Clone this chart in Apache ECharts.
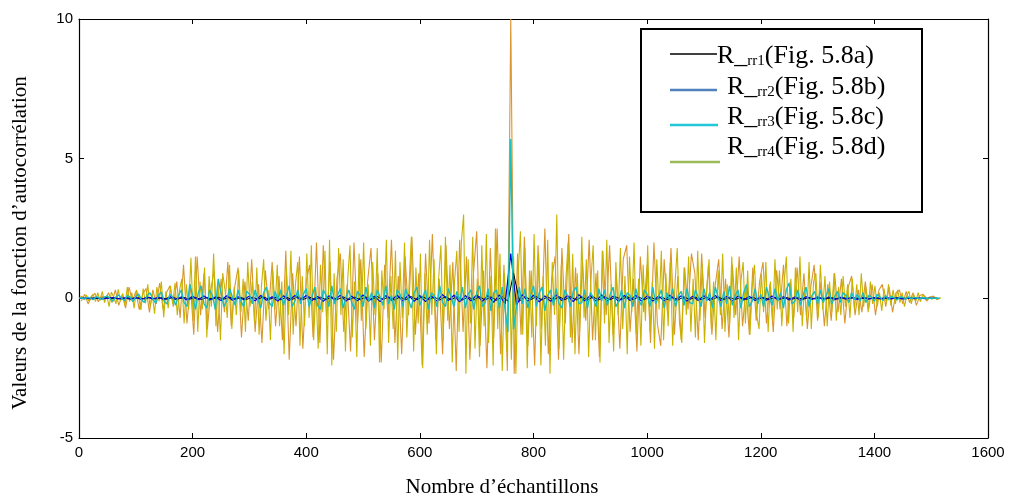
<!DOCTYPE html>
<html><head><meta charset="utf-8">
<script src="https://cdn.jsdelivr.net/npm/echarts@6/dist/echarts.min.js"></script>
<style>html,body{margin:0;padding:0;background:#fff}#c{width:1012px;height:497px}</style>
</head><body><div id="c"></div>
<script>
// ---- data (sample index = START + STEP * i) ----
const X_TICKS = [0,200,400,600,800,1000,1200,1400,1600];
const Y_TICKS = [-5,0,5,10];
const SERIES_NAMES = ['R_rr1(Fig. 5.8a)','R_rr2(Fig. 5.8b)','R_rr3(Fig. 5.8c)','R_rr4(Fig. 5.8d)'];

const YEL_START = 1, YEL_STEP = 4;
const yellow = [
0.02,0.08,-0.05,0.12,-0.1,0.05,0.15,-0.12,0.2,-0.08,
0.25,-0.15,0.1,-0.3,0.22,0.05,-0.2,0.32,-0.1,0.18,
-0.25,0.4,-0.12,0.2,-0.35,0.3,0.05,-0.42,0.35,-0.18,
0.5,-0.3,0.15,-0.55,0.4,-0.1,0.6,-0.68,0.25,-0.35,
0.45,-0.2,0.55,-0.6,0.3,0.7,-0.9,0.5,-0.4,1.45,
-0.8,1.5,-1.2,0.6,-0.4,1.1,-1.4,0.8,-0.3,1.6,
-1.0,0.5,-1.5,0.9,0.3,-0.7,1.2,-1.1,0.4,-0.6,
1.0,-0.5,0.7,-1.2,1.3,-0.3,0.6,-0.9,1.1,-1.3,
0.4,1.4,-0.8,0.3,-1.5,1.0,-0.4,1.2,-1.0,0.6,
-2.0,1.1,-0.6,1.7,-1.3,0.5,1.3,-1.7,0.8,-1.0,
1.6,-0.7,1.9,-1.5,0.4,-1.8,1.2,-0.5,1.7,-2.0,
2.1,-2.4,0.9,-1.2,1.8,-0.6,1.4,-1.9,0.7,1.9,
-1.4,0.6,-2.1,1.6,-0.8,2.0,-1.1,0.5,-1.7,1.3,
-0.6,1.8,-2.3,1.0,-0.4,2.1,-1.6,0.8,-1.1,1.7,
-2.2,1.3,-0.7,2.0,-1.4,0.5,2.2,-1.9,1.1,-0.9,
1.6,-2.5,0.9,-1.3,2.1,-0.6,1.4,-2.0,0.7,1.9,
-1.5,2.2,-0.8,1.2,-2.3,0.6,1.7,-1.2,2.0,3.0,
-2.7,1.4,-0.9,2.2,-1.8,0.7,-2.1,1.9,-1.0,2.3,
-1.6,0.8,-2.4,2.5,-1.1,1.6,-2.6,0.9,-1.9,2.0,
-2.2,1.5,-2.7,0.9,2.4,-1.3,1.8,-2.5,1.0,-1.4,
2.3,-1.0,1.6,-2.4,0.8,-1.7,2.1,-2.7,1.3,-0.6,
3.0,-1.8,1.2,-2.2,0.7,2.0,-1.4,1.6,-2.0,0.9,
-1.2,2.2,-0.7,1.4,-2.1,0.6,1.9,-1.5,1.0,-2.3,
1.7,-0.9,2.1,-1.6,0.5,-1.9,1.3,-0.6,1.8,-1.1,
0.8,-2.0,1.5,-0.5,2.0,-1.3,0.7,-1.7,1.2,-0.8,
1.9,-1.2,0.6,-1.8,1.4,-0.4,1.7,-1.5,0.9,-1.0,
1.3,-1.7,0.5,1.8,-0.9,-1.6,1.1,-0.6,1.5,-1.2,
0.7,-1.4,1.7,-0.8,1.2,-1.6,0.4,1.4,-1.1,0.6,
-1.5,1.0,-0.6,1.6,-1.2,0.5,-1.0,1.5,-0.7,1.1,
-1.5,0.6,1.3,-0.9,1.0,-1.3,0.4,1.2,-0.6,-1.1,
0.9,-0.5,1.3,-1.2,0.6,-0.8,1.4,-0.4,1.0,-1.0,
0.5,1.5,-0.9,0.7,-1.2,1.1,-0.5,1.5,-1.0,0.4,
-0.8,1.3,-1.1,0.6,0.9,-0.7,1.2,-0.4,0.8,-1.0,
0.6,-0.5,0.9,-0.8,0.4,-0.6,0.8,-0.3,0.5,-0.7,
0.7,-0.4,0.5,-0.6,0.9,-0.3,0.4,-0.5,0.6,-0.2,
0.45,-0.3,0.2,-0.45,0.35,-0.15,0.5,-0.25,0.3,-0.2,
0.3,-0.15,0.2,-0.3,0.1,0.25,-0.2,0.15,-0.1,0.2,
-0.12,0.1,0.08,-0.06,0.05,-0.04,0.03,0.02,-0.01,0.01
];

const ORA_START = 4, ORA_STEP = 6;
const orange = [
-0.1,0.15,-0.2,0.05,0.18,-0.12,0.1,-0.05,0.2,-0.15,
0.3,-0.25,0.12,-0.35,0.4,-0.1,0.25,-0.4,0.15,0.35,
-0.5,0.3,-0.2,0.55,-0.4,0.2,0.45,-0.3,0.6,-0.7,
1.2,-0.9,0.5,-1.3,1.5,-0.6,0.9,-1.1,0.3,1.0,
-1.2,0.7,-0.5,1.3,-1.0,0.4,1.1,-1.4,0.6,-0.8,
1.4,-1.2,0.5,-1.6,1.0,-0.4,1.3,-1.0,0.8,-1.5,
1.7,-2.2,0.9,-1.0,1.5,-1.8,0.6,1.2,-1.4,2.0,
-1.6,1.9,-0.8,1.3,-2.2,0.7,1.6,-1.2,0.5,-1.9,
2.0,-1.0,1.4,-2.1,0.6,1.8,-1.5,0.9,-2.3,1.2,
-0.7,2.1,-1.6,0.8,-2.0,1.5,-0.6,2.2,-1.3,0.9,
-2.4,1.6,-0.9,2.3,-1.5,0.7,-2.0,1.9,-1.1,1.3,
-2.6,2.1,-1.2,1.5,-2.2,0.8,2.4,-1.7,1.0,-2.5,
1.8,-1.4,2.5,-2.0,1.2,-2.6,10,-2.7,1.6,-1.3,
2.2,-1.7,1.0,-2.4,1.9,-1.1,2.5,-2.0,0.7,1.5,
-2.2,1.8,-0.9,2.3,-1.6,1.1,-2.0,1.4,-0.8,2.1,
-1.5,0.9,-2.1,1.7,-0.6,1.9,-1.3,0.8,-1.8,1.4,
1.9,-1.2,0.7,-1.9,1.5,-0.5,1.2,-1.6,2.0,-0.9,
-1.7,1.4,-0.6,1.8,-1.3,0.8,-1.5,1.1,-0.4,1.6,
0.9,-1.5,1.6,-0.7,1.2,-1.3,0.5,1.4,-1.1,0.7,
-1.4,1.2,-0.6,1.5,-1.0,0.4,-1.3,1.1,-0.8,0.6,
1.3,-0.9,0.5,-1.2,1.0,-0.4,1.2,-1.0,0.6,-0.7,
1.1,-0.6,0.9,-1.1,0.4,1.2,-0.8,0.6,-1.0,0.5,
-0.8,0.9,-0.5,0.7,-0.9,0.4,0.8,-0.6,0.3,-0.5,
0.6,-0.4,0.5,-0.6,0.3,0.5,-0.3,0.4,-0.5,0.2,
0.3,-0.2,0.25,-0.15,0.2,-0.25,0.1,0.15,-0.1,0.05,
0.08,-0.05,0.02
];

const CYA_START = 0, CYA_STEP = 5;
const cyan = [
0,0.02,-0.03,0.04,0.01,-0.05,0.06,0.02,-0.04,0.05,
0.08,-0.02,-0.1,0.05,0.12,0,-0.08,0.1,0.04,-0.12,
0.06,0.15,-0.05,-0.15,0.1,0.2,-0.02,-0.18,0.12,0.22,
-0.1,-0.2,0.15,0.05,-0.25,0.1,0.3,-0.15,-0.3,0.5,
0.1,-0.4,0.2,0.45,-0.2,-0.35,0.3,0.1,-0.4,0.7,
0.2,-0.3,-0.1,0.35,0.05,-0.25,0.3,-0.1,-0.3,0.25,
0.15,-0.2,0.3,-0.05,-0.35,0.2,0.4,-0.15,-0.3,0.25,
-0.05,0.3,-0.25,0.1,0.45,-0.3,-0.1,0.3,-0.2,0.15,
0.35,-0.3,0.05,0.4,-0.25,-0.4,0.3,0.1,-0.3,0.45,
-0.2,0.1,0.35,-0.35,0.05,0.3,-0.15,-0.4,0.25,0.1,
-0.3,0.4,-0.1,0.2,-0.35,0.3,0.05,-0.25,0.45,-0.2,
0.1,-0.4,0.3,0.15,-0.3,0.35,-0.05,-0.35,0.2,0.4,
-0.25,0.05,0.3,-0.4,0.2,0.1,-0.3,0.45,-0.15,-0.3,
0.35,0.05,-0.3,0.25,-0.1,0.4,-0.35,0.15,0.3,-0.4,
0.2,0.45,-0.3,-0.15,0.35,-0.45,0.2,0.3,-0.35,0.4,
-0.4,-1.2,5.7,-1.1,-0.3,0.4,-0.2,0.35,-0.35,0.1,
0.45,-0.3,0.2,0.4,-0.45,0.1,0.3,-0.25,0.35,-0.2,
-0.35,0.3,0.1,-0.3,0.25,0.4,-0.2,-0.15,0.3,-0.35,
0.2,0.05,-0.3,0.35,-0.1,0.3,-0.25,0.15,0.4,-0.3,
-0.1,0.3,-0.35,0.2,0.1,-0.3,0.35,-0.05,-0.25,0.3,
0.15,-0.3,0.4,-0.2,0.05,0.3,-0.35,0.2,-0.1,0.35,
-0.3,0.1,0.25,-0.25,0.35,-0.15,-0.2,0.3,0.05,-0.3,
0.35,-0.1,0.2,-0.35,0.4,0.05,-0.3,0.25,-0.2,0.45,
-0.25,0.1,0.3,-0.35,0.2,0.5,-0.3,-0.1,0.35,-0.2,
0.15,-0.3,0.4,0.05,-0.25,0.35,-0.1,0.2,-0.35,0.3,
0.55,-0.2,-0.1,0.3,-0.25,0.15,0.4,-0.3,0.1,0.25,
-0.2,0.3,-0.15,0.1,0.35,-0.2,0.05,0.25,-0.15,0.2,
0.1,-0.15,0.2,-0.05,0.15,-0.1,0.2,-0.15,0.1,0.05,
-0.1,0.15,0.05,-0.08,0.1,-0.05,0.08,0.02,-0.06,0.05,
0.04,-0.03,0.05,-0.02,0.03,0.01,-0.02,0.02,0.01,-0.01,
0.01,0,0.01,0
];

const BLU_START = 0, BLU_STEP = 10;
const blue = [
0,0.01,-0.01,0.02,-0.02,0.01,0.03,-0.02,0.02,-0.03,
0.03,-0.04,0.05,-0.03,0.04,-0.05,0.06,-0.04,0.05,-0.06,
0.07,-0.05,0.08,-0.06,0.05,-0.08,0.09,-0.07,0.06,-0.05,
0.08,-0.09,0.1,-0.07,0.06,-0.1,0.09,-0.08,0.1,-0.06,
0.1,-0.08,0.07,-0.11,0.09,-0.06,0.11,-0.1,0.08,-0.09,
0.12,-0.1,0.08,-0.12,0.1,-0.07,0.11,-0.09,0.12,-0.11,
0.1,-0.12,0.09,-0.1,0.13,-0.08,0.11,-0.13,0.1,-0.09,
0.12,-0.11,0.1,-0.14,0.12,-0.2,1.6,-0.25,0.13,-0.1,
0.11,-0.13,0.09,-0.11,0.12,-0.08,0.1,-0.12,0.13,-0.09,
0.1,-0.1,0.12,-0.09,0.08,-0.11,0.1,-0.08,0.11,-0.1,
0.09,-0.1,0.08,-0.09,0.11,-0.07,0.09,-0.1,0.08,-0.08,
0.09,-0.07,0.1,-0.08,0.07,-0.09,0.08,-0.06,0.07,-0.08,
0.06,-0.07,0.08,-0.05,0.06,-0.06,0.05,-0.07,0.06,-0.04,
0.05,-0.04,0.05,-0.05,0.04,-0.03,0.04,-0.04,0.03,-0.03,
0.03,-0.02,0.03,-0.02,0.02,-0.02,0.01,-0.01,0.01,-0.01,
0.01,0
];

const BLK_START = 5, BLK_STEP = 10;
const black = [
0,-0.01,0.01,-0.01,0.02,-0.01,0.01,-0.02,0.02,-0.01,
0.02,-0.02,0.03,-0.02,0.02,-0.03,0.03,-0.02,0.03,-0.03,
0.03,-0.04,0.03,-0.03,0.04,-0.03,0.04,-0.04,0.03,-0.04,
0.04,-0.03,0.05,-0.04,0.04,-0.05,0.04,-0.04,0.05,-0.04,
0.05,-0.04,0.04,-0.05,0.05,-0.04,0.05,-0.05,0.04,-0.05,
0.05,-0.05,0.06,-0.04,0.05,-0.06,0.05,-0.05,0.06,-0.05,
0.06,-0.05,0.05,-0.06,0.06,-0.05,0.06,-0.06,0.05,-0.06,
0.06,-0.06,0.05,-0.07,0.06,-0.1,0.9,-0.1,0.06,-0.05,
0.06,-0.06,0.05,-0.06,0.06,-0.05,0.06,-0.06,0.05,-0.06,
0.05,-0.06,0.06,-0.05,0.05,-0.05,0.06,-0.05,0.05,-0.05,
0.05,-0.04,0.05,-0.05,0.04,-0.05,0.05,-0.04,0.04,-0.05,
0.04,-0.04,0.05,-0.04,0.04,-0.04,0.03,-0.04,0.04,-0.03,
0.03,-0.04,0.03,-0.03,0.03,-0.03,0.02,-0.03,0.03,-0.02,
0.02,-0.02,0.02,-0.02,0.02,-0.01,0.02,-0.01,0.01,-0.01,
0.01,-0.01,0.01,0,0.01,0,0,0,0,0,
0
];

// ---- chart ----
function pairs(arr, start, step){ return arr.map((v,i)=>[start+step*i, v]); }
const SANS = 'Liberation Sans, Arial, sans-serif';
const SERIF = 'Liberation Serif, Times New Roman, serif';

const chart = echarts.init(document.getElementById('c'), null, {renderer:'canvas'});
const axisCommon = {
  axisLine:{show:true, onZero:false, lineStyle:{color:'#000', width:1.2}},
  axisTick:{show:true, inside:true, length:5, lineStyle:{color:'#000', width:1}},
  splitLine:{show:false}
};
const lineSeries = (name, arr, start, step, color, w, z) => ({
  name, type:'line', data:pairs(arr,start,step), showSymbol:false, symbol:'none',
  lineStyle:{color, width:w}, itemStyle:{color}, z, animation:false, silent:true,
  xAxisIndex:0, yAxisIndex:0, clip:true
});

const legendItems = [
  {lineY:54, x1:670, x2:717, color:'#000', lw:1.5, tx:717, ty:56, sub:'rr1', rest:'(Fig. 5.8a)'},
  {lineY:90, x1:670, x2:717, color:'#4f81bd', lw:2.5, tx:727, ty:87, sub:'rr2', rest:'(Fig. 5.8b)'},
  {lineY:125, x1:670, x2:718, color:'#22c8d8', lw:2.5, tx:727, ty:117, sub:'rr3', rest:'(Fig. 5.8c)'},
  {lineY:162, x1:670, x2:720, color:'#9bbb59', lw:2.5, tx:727, ty:147, sub:'rr4', rest:'(Fig. 5.8d)'}
];
const graphics = [
  {type:'rect', shape:{x:641, y:29, width:281, height:183}, style:{fill:'#fff', stroke:'#000', lineWidth:2}, z:100}
];
legendItems.forEach(it=>{
  graphics.push({type:'line', shape:{x1:it.x1, y1:it.lineY, x2:it.x2, y2:it.lineY}, style:{stroke:it.color, lineWidth:it.lw}, z:101});
  graphics.push({type:'text', x:it.tx, y:it.ty, z:101, style:{
    text:'{a|R_}{s|'+it.sub+'}{a|'+it.rest+'}', verticalAlign:'middle', align:'left',
    rich:{a:{fontFamily:SERIF, fontSize:26, fill:'#000', verticalAlign:'bottom'},
          s:{fontFamily:SERIF, fontSize:15, fill:'#000', verticalAlign:'bottom'}}
  }});
});
graphics.push({type:'text', x:502, y:487, z:101, style:{text:'Nombre d’échantillons', font:'21px '+SERIF, fill:'#000', align:'center', verticalAlign:'middle'}});
graphics.push({type:'text', x:20, y:243, rotation:Math.PI/2, z:101, style:{text:'Valeurs de la fonction d’autocorrélation', font:'21px '+SERIF, fill:'#000', align:'center', verticalAlign:'middle'}});

chart.setOption({
  animation:false,
  backgroundColor:'#fff',
  grid:{left:79, right:24, top:19, bottom:59, containLabel:false},
  xAxis:[
    Object.assign({type:'value', min:X_TICKS[0], max:X_TICKS[X_TICKS.length-1], interval:200, position:'bottom',
      axisLabel:{color:'#000', fontFamily:SANS, fontSize:15, margin:7, formatter:v=>String(v)}}, axisCommon),
    Object.assign({type:'value', min:X_TICKS[0], max:X_TICKS[X_TICKS.length-1], interval:200, position:'top',
      axisLabel:{show:false}}, axisCommon)
  ],
  yAxis:[
    Object.assign({type:'value', min:Y_TICKS[0], max:Y_TICKS[Y_TICKS.length-1], interval:5, position:'left',
      axisLabel:{color:'#000', fontFamily:SANS, fontSize:15, margin:6, formatter:v=>String(v)}}, axisCommon),
    Object.assign({type:'value', min:Y_TICKS[0], max:Y_TICKS[Y_TICKS.length-1], interval:5, position:'right',
      axisLabel:{show:false}}, axisCommon)
  ],
  series:[
    lineSeries(SERIES_NAMES[3]+' a', orange, ORA_START, ORA_STEP, '#da9530', 1.1, 2),
    lineSeries(SERIES_NAMES[3], yellow, YEL_START, YEL_STEP, '#c8b400', 1.1, 3),
    lineSeries(SERIES_NAMES[0], black, BLK_START, BLK_STEP, '#000000', 1, 4),
    lineSeries(SERIES_NAMES[1], blue, BLU_START, BLU_STEP, '#0000dd', 1.2, 5),
    lineSeries(SERIES_NAMES[2], cyan, CYA_START, CYA_STEP, '#17bfbf', 1.4, 6)
  ],
  graphic:graphics
});
</script></body></html>
